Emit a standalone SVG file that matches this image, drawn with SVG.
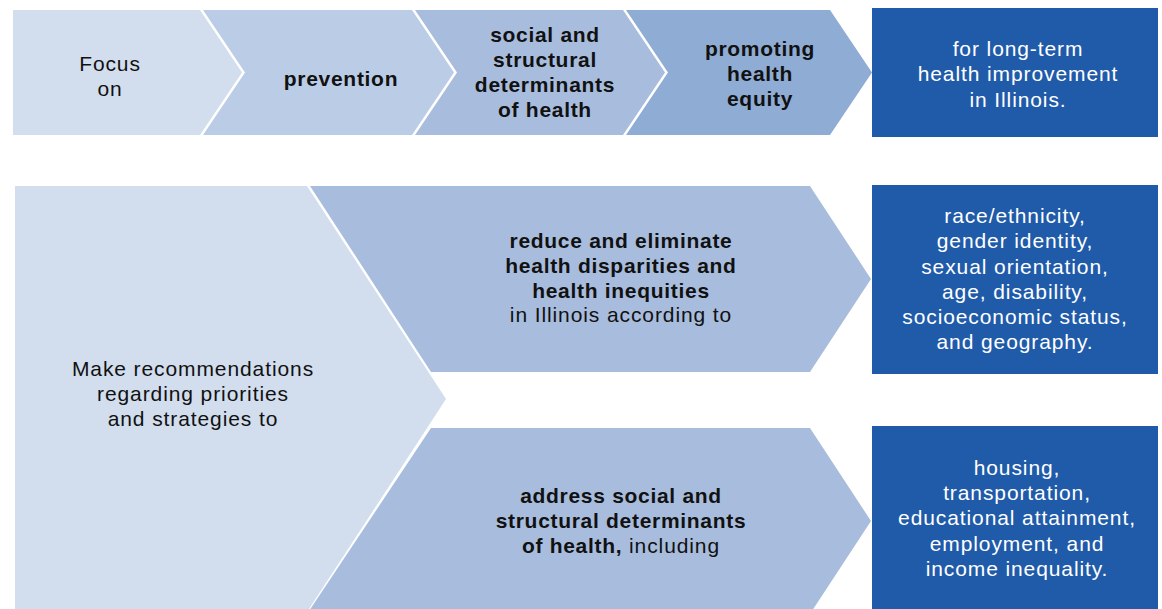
<svg xmlns="http://www.w3.org/2000/svg" width="1162" height="609" viewBox="0 0 1162 609">
<style>
text{font-family:"Liberation Sans",Arial,Helvetica,sans-serif;font-size:21px;letter-spacing:0.9px;text-anchor:middle;fill:#111}
.b{font-weight:bold;letter-spacing:0.7px}
.w{fill:#fff}
.c1{fill:#D2DEEE}.c2{fill:#BBCDE6}.c3{fill:#A8BDDD}.c4{fill:#8FACD5}.bl{fill:#205BA9}
</style>
<rect width="1162" height="609" fill="#fff"/>
<g id="connectors"/>
<g id="focus-on">
<polygon class="c1" points="13,10 200,10 242,72.5 200,135 13,135"/>
<text x="110" y="71">Focus</text><text x="110" y="96">on</text>
</g>
<g id="prevention">
<polygon class="c2" points="203,10 412,10 454,72.5 412,135 203,135 245,72.5"/>
<text class="b" x="341" y="86">prevention</text>
</g>
<g id="social-structural">
<polygon class="c3" points="415,10 623,10 665,72.5 623,135 415,135 457,72.5"/>
<text class="b" x="545" y="42">social and</text>
<text class="b" x="545" y="67">structural</text>
<text class="b" x="545" y="92">determinants</text>
<text class="b" x="545" y="117">of health</text>
</g>
<g id="promoting-equity">
<polygon class="c4" points="626,10 830,10 872,72.5 830,135 626,135 668,72.5"/>
<text class="b" x="760" y="55.5">promoting</text>
<text class="b" x="760" y="81">health</text>
<text class="b" x="760" y="106">equity</text>
</g>
<g id="long-term">
<rect class="bl" x="872" y="8" width="286" height="129"/>
<text class="w" x="1018" y="55.5">for long-term</text>
<text class="w" x="1018" y="81">health improvement</text>
<text class="w" x="1018" y="106.5">in Illinois.</text>
</g>
<g id="recommendations">
<polygon class="c1" points="15,186 307,186 446,399 307,612 15,612"/>
<text x="193" y="376">Make recommendations</text>
<text x="193" y="401">regarding priorities</text>
<text x="193" y="426">and strategies to</text>
</g>
<g id="reduce-disparities">
<polygon class="c3" points="310,186 810,186 871,279 810,372 431,372"/>
<text class="b" x="621" y="247.5">reduce and eliminate</text>
<text class="b" x="621" y="272.5">health disparities and</text>
<text class="b" x="621" y="297.5">health inequities</text>
<text x="621" y="322">in Illinois according to</text>
</g>
<g id="address-determinants">
<polygon class="c3" points="431,428 810,428 871,521 810,614 307,614"/>
<text class="b" x="621" y="503">address social and</text>
<text class="b" x="621" y="528">structural determinants</text>
<text x="621" y="553"><tspan class="b">of health,</tspan> including</text>
</g>
<g id="equity-factors">
<rect class="bl" x="872" y="185" width="286" height="189"/>
<text class="w" x="1015" y="223">race/ethnicity,</text>
<text class="w" x="1015" y="248.3">gender identity,</text>
<text class="w" x="1015" y="273.5">sexual orientation,</text>
<text class="w" x="1015" y="298.7">age, disability,</text>
<text class="w" x="1015" y="324">socioeconomic status,</text>
<text class="w" x="1015" y="349.2">and geography.</text>
</g>
<g id="determinant-factors">
<rect class="bl" x="872" y="426" width="286" height="190"/>
<text class="w" x="1017" y="474.5">housing,</text>
<text class="w" x="1017" y="500">transportation,</text>
<text class="w" x="1017" y="525.3">educational attainment,</text>
<text class="w" x="1017" y="550.5">employment, and</text>
<text class="w" x="1017" y="576">income inequality.</text>
</g>
</svg>
